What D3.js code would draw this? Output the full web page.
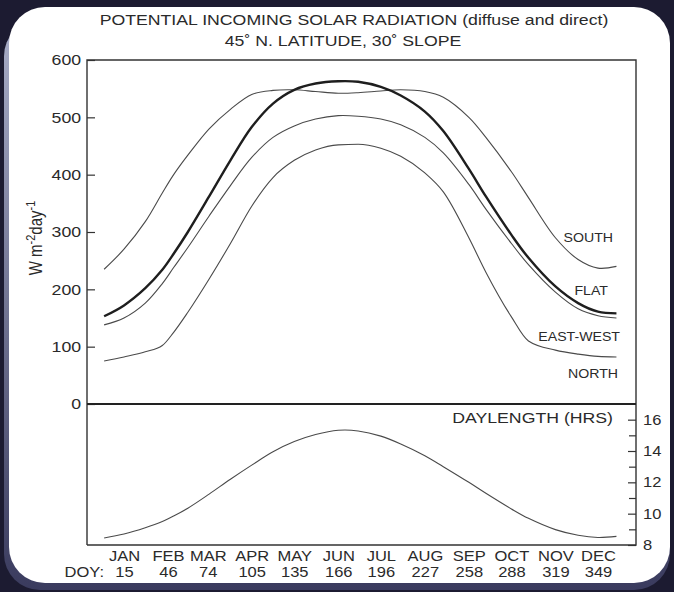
<!DOCTYPE html>
<html><head><meta charset="utf-8">
<script src="https://cdn.jsdelivr.net/npm/d3@7"></script>
<style>html,body{margin:0;padding:0;background:#1c1b31;} svg{display:block}</style>
</head><body><svg id="c" width="674" height="592"></svg>
<script>
// ---- data ----
const titleText = "POTENTIAL INCOMING SOLAR RADIATION (diffuse and direct)";
const subtitleText = "45\u02DA N. LATITUDE, 30\u02DA SLOPE";
const months = ["JAN","FEB","MAR","APR","MAY","JUN","JUL","AUG","SEP","OCT","NOV","DEC"];
const monthDoy = [15,46,74,105,135,166,196,227,258,288,319,349];
const doy   = [1, 15, 30, 42, 50, 60, 75, 90, 105, 120, 135, 150, 166, 180, 196, 210, 227, 240, 258, 270, 288, 300, 319, 335, 349, 362];
const south = [235,270,318,368,400,434,480,514,540,547,548,545,542,543,546,548,545,535,500,465,405,360,290,252,237,240];
const flat  = [153,172,202,234,262,300,362,425,483,524,548,559,563,562,553,538,510,476,410,362,295,255,205,176,161,158];
const eastWest = [138,150,176,210,238,273,328,381,430,465,485,497,503,502,497,487,465,438,383,340,280,243,195,166,154,150];
const north = [75,82,91,102,125,160,218,280,345,395,425,443,452,453,446,432,403,370,290,230,152,110,94,87,83,82];
const dayLength = [8.45,8.7,9.1,9.5,9.85,10.35,11.25,12.2,13.1,13.95,14.6,15.05,15.32,15.28,14.95,14.45,13.7,13.0,12.0,11.3,10.3,9.7,8.98,8.62,8.48,8.55];
const radTicks = [0,100,200,300,400,500,600];
const dayTicks = [8,10,12,14,16];
const dayMinorTicks = [9,11,13,15];
const seriesNames = ["SOUTH","FLAT","EAST-WEST","NORTH"];

// ---- layout ----
const L = 87, R = 636, T = 60, M = 404, B = 545;
const SX = 1.18; // horizontal stretch of lettering in the scanned figure
const FONT = "'Liberation Sans', Arial, Helvetica, sans-serif";
const svg = d3.select("#c");

// card
const grad = svg.append("defs").append("linearGradient").attr("id","sh").attr("x1",0).attr("y1",0).attr("x2",0).attr("y2",1);
grad.append("stop").attr("offset","0%").attr("stop-color","#a9aec8");
grad.append("stop").attr("offset","100%").attr("stop-color","#3a3b5e");
svg.append("rect").attr("x",4).attr("y",20).attr("width",666).attr("height",570).attr("rx",36).attr("fill","url(#sh)");
svg.append("rect").attr("x",9).attr("y",7).attr("width",661).attr("height",576).attr("rx",36).attr("fill","#ffffff");

const x = d3.scaleLinear().domain([0,365]).range([102.7,620.7]);
const yRad = d3.scaleLinear().domain([0,600]).range([M,T]);
const yDay = d3.scaleLinear().domain([8,17]).range([B,M]);

function stext(px, py, str, size, anchor) {
  const g = svg.append("g").attr("transform", `translate(${px},${py}) scale(${SX},1)`);
  return g.append("text").attr("text-anchor", anchor || "middle")
    .attr("font-family", FONT).attr("font-size", size).attr("fill", "#2a2a2a")
    .text(str);
}

// titles
stext(354, 25, titleText, 15);
stext(343, 46, subtitleText, 15);

// upper y axis
const ay = svg.append("g").attr("transform", `translate(${L},0)`)
  .call(d3.axisLeft(yRad).tickValues(radTicks).tickSize(-8).tickPadding(5));
ay.select(".domain").remove();
ay.selectAll("line").attr("stroke","#333").attr("stroke-width",1.2);
ay.selectAll("text").attr("font-family",FONT).attr("font-size",15).attr("fill","#2a2a2a")
  .attr("transform",`scale(${SX},1)`);

// right y axis (day length)
const ad = svg.append("g").attr("transform", `translate(${R},0)`)
  .call(d3.axisRight(yDay).tickValues(dayTicks).tickSize(-8).tickPadding(6));
ad.select(".domain").remove();
ad.selectAll("line").attr("stroke","#333").attr("stroke-width",1.2);
ad.selectAll("text").attr("font-family",FONT).attr("font-size",14).attr("fill","#2a2a2a")
  .attr("transform",`scale(${SX},1)`);
const adm = svg.append("g").attr("transform", `translate(${R},0)`)
  .call(d3.axisRight(yDay).tickValues(dayMinorTicks).tickSize(-7).tickFormat(""));
adm.select(".domain").remove();
adm.selectAll("line").attr("stroke","#333").attr("stroke-width",1.2);

// x axis labels
const ax1 = svg.append("g").attr("transform", `translate(0,${B})`)
  .call(d3.axisBottom(x).tickValues(monthDoy).tickSize(0).tickPadding(6).tickFormat((d,i)=>months[i]));
ax1.select(".domain").remove();
ax1.selectAll("text").attr("font-family",FONT).attr("font-size",14).attr("fill","#2a2a2a")
  .attr("transform",`scale(${SX},1)`);
const ax2 = svg.append("g").attr("transform", `translate(0,${B})`)
  .call(d3.axisBottom(x).tickValues(monthDoy).tickSize(0).tickPadding(22).tickFormat(d=>d));
ax2.select(".domain").remove();
ax2.selectAll("text").attr("font-family",FONT).attr("font-size",14).attr("fill","#2a2a2a")
  .attr("transform",`scale(${SX},1)`);
stext(104, 577, "DOY:", 14, "end");

// frame
const frame = svg.append("g").attr("fill","none").attr("stroke","#333");
frame.append("path").attr("d",`M${L},${B}V${T}H${R}V${B}H${L}`).attr("stroke-width",1.4);
frame.append("line").attr("x1",L).attr("x2",R).attr("y1",M).attr("y2",M).attr("stroke-width",2).attr("stroke","#222");

// y axis title
const yt = svg.append("text").attr("transform",`translate(42,238) rotate(-90) scale(1,${SX})`)
  .attr("text-anchor","middle").attr("font-family",FONT).attr("font-size",15).attr("fill","#2a2a2a");
yt.append("tspan").text("W m");
yt.append("tspan").attr("dy",-6).attr("font-size",11).text("-2");
yt.append("tspan").attr("dy",6).text("day");
yt.append("tspan").attr("dy",-6).attr("font-size",11).text("-1");

// curves
const smooth = d3.curveCatmullRom.alpha(0.5);
const lineRad = (c) => d3.line().x((d,i)=>x(doy[i])).y(d=>yRad(d)).curve(c);
const series = [south, flat, eastWest, north];
series.forEach((s,k)=>{
  svg.append("path").attr("d", lineRad(k===3 ? d3.curveMonotoneX : smooth)(s)).attr("fill","none")
    .attr("stroke", k===1 ? "#1e1e1e" : "#4a4a4a")
    .attr("stroke-width", k===1 ? 2.4 : 1.1);
});
const lineDay = d3.line().x((d,i)=>x(doy[i])).y(d=>yDay(d)).curve(smooth);
svg.append("path").attr("d", lineDay(dayLength)).attr("fill","none").attr("stroke","#4a4a4a").attr("stroke-width",1.1);

// labels
const labPos = [[613,242],[608,295],[620,341],[618,378]];
seriesNames.forEach((n,i)=> stext(labPos[i][0], labPos[i][1], n, 12, "end"));
stext(613, 423, "DAYLENGTH (HRS)", 15, "end");
</script></body></html>
